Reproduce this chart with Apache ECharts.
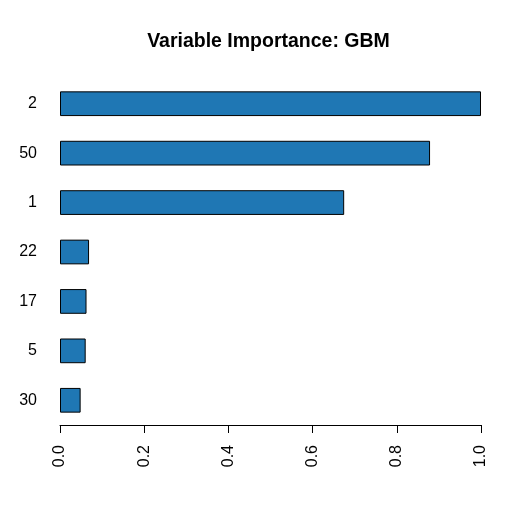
<!DOCTYPE html>
<html>
<head>
<meta charset="utf-8">
<script src="https://cdn.jsdelivr.net/npm/echarts@6/dist/echarts.min.js"></script>
<style>html,body{margin:0;padding:0;background:#fff;}#c{width:522px;height:523px;}</style>
</head>
<body>
<div id="c"></div>
<script>
var categories = ['2', '50', '1', '22', '17', '5', '30'];
var importance = [1.0, 0.879, 0.675, 0.069, 0.063, 0.061, 0.049];
var xTicks = [0, 0.2, 0.4, 0.6, 0.8, 1.0];

var chart = echarts.init(document.getElementById('c'), null, {renderer: 'canvas'});
chart.setOption({
  backgroundColor: '#ffffff',
  animation: false,
  title: {
    text: 'Variable Importance: GBM',
    left: 268.5,
    textAlign: 'center',
    top: 32,
    padding: 0,
    textStyle: {fontFamily: 'Liberation Sans, Arial, sans-serif', fontWeight: 'bold', fontSize: 19.5, color: '#000'}
  },
  grid: {left: 60, right: 41, top: 79, bottom: 98},
  xAxis: {
    type: 'value',
    min: 0, max: 1, interval: 0.2,
    splitLine: {show: false},
    axisLine: {show: true, lineStyle: {color: '#000', width: 1}},
    axisTick: {show: true, length: 8, lineStyle: {color: '#000'}},
    axisLabel: {
      rotate: 90, margin: 20, color: '#000', fontSize: 16,
      fontFamily: 'Liberation Sans, Arial, sans-serif',
      formatter: function (v) { return v.toFixed(1); }
    }
  },
  yAxis: {
    type: 'category',
    data: categories,
    inverse: true,
    axisLine: {show: false},
    axisTick: {show: false},
    axisLabel: {margin: 23, color: '#000', fontSize: 16, fontFamily: 'Liberation Sans, Arial, sans-serif'}
  },
  series: [{
    type: 'bar',
    data: importance,
    barWidth: '50%',
    itemStyle: {color: '#1f77b4', borderColor: '#000', borderWidth: 1}
  }]
});
</script>
</body>
</html>
